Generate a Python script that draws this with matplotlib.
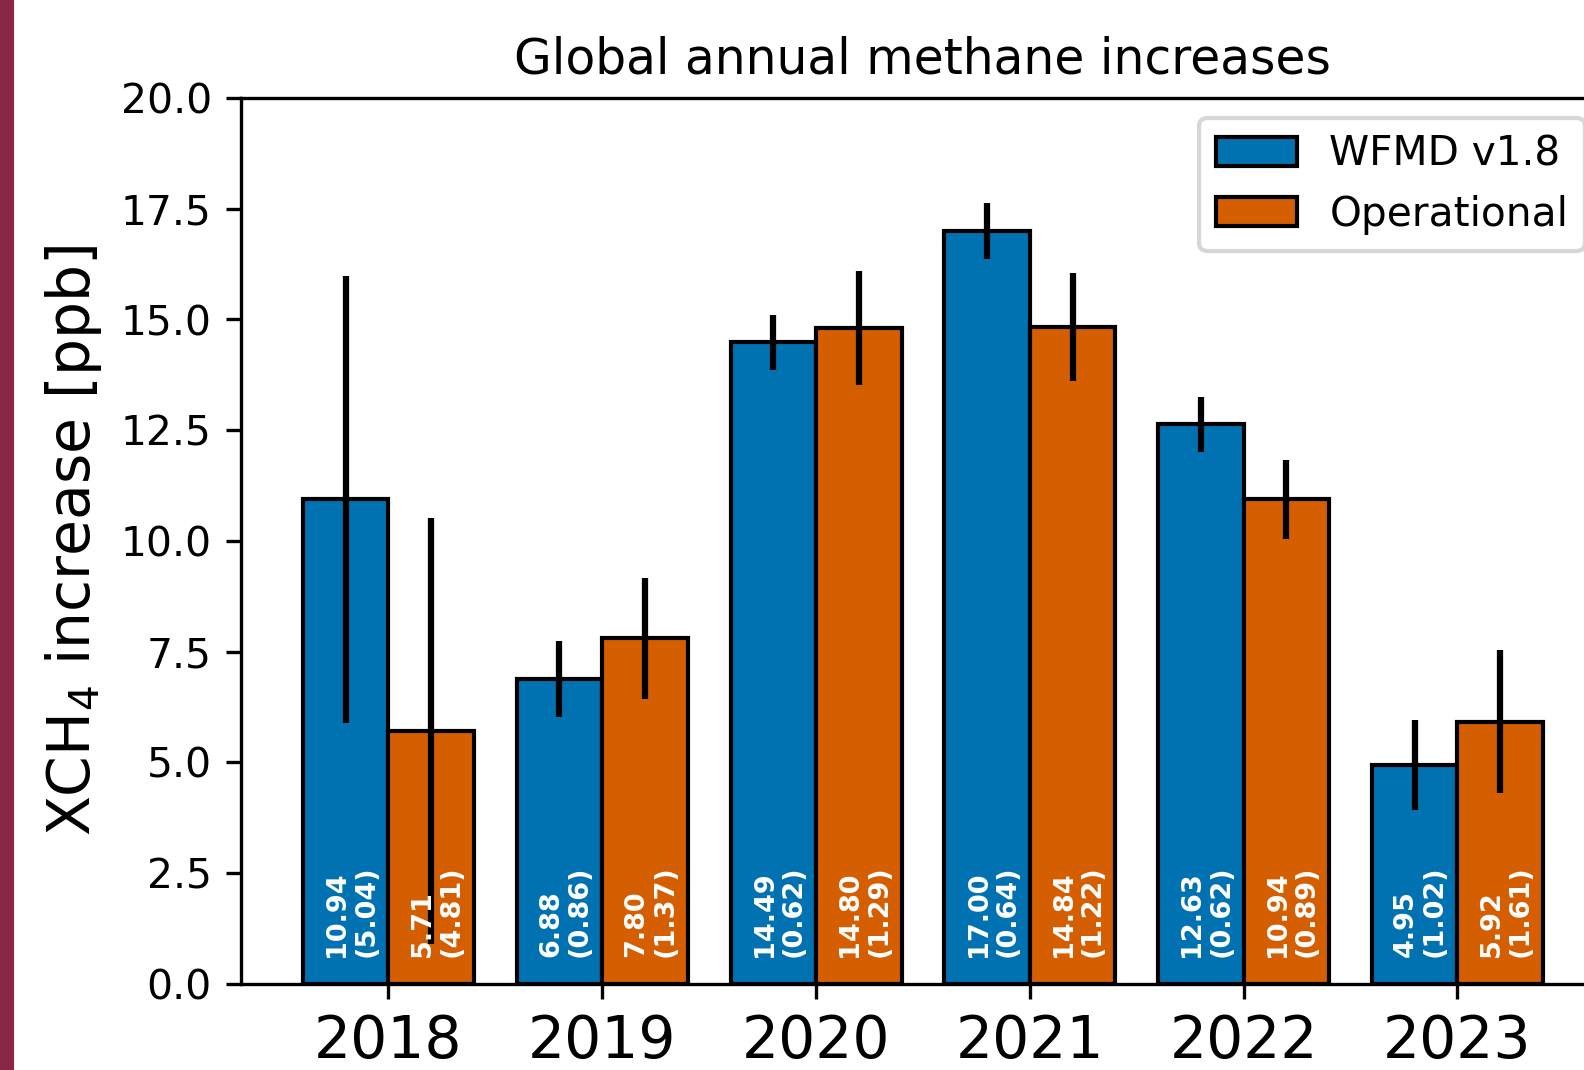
import matplotlib.pyplot as plt
import numpy as np
from matplotlib.patches import Rectangle

years = ['2018', '2019', '2020', '2021', '2022', '2023']
wfmd = [10.94, 6.88, 14.49, 17.00, 12.63, 4.95]
wfmd_err = [5.04, 0.86, 0.62, 0.64, 0.62, 1.02]
oper = [5.71, 7.80, 14.80, 14.84, 10.94, 5.92]
oper_err = [4.81, 1.37, 1.29, 1.22, 0.89, 1.61]

blue = '#0072B2'
orange = '#D55E00'

fig = plt.figure(figsize=(5.28, 3.5667), dpi=300)
ax = fig.add_axes([0.1521, 0.0804, 0.8611, 0.828])

x = np.arange(len(years))
w = 0.4
ax.bar(x - w/2, wfmd, w, yerr=wfmd_err, color=blue, edgecolor='black',
       linewidth=1.0, error_kw=dict(elinewidth=1.5, ecolor='black'), label='WFMD v1.8')
ax.bar(x + w/2, oper, w, yerr=oper_err, color=orange, edgecolor='black',
       linewidth=1.0, error_kw=dict(elinewidth=1.5, ecolor='black'), label='Operational')

for i in range(len(years)):
    ax.text(x[i] - w/2 + 0.028, 0.6, '%.2f\n(%.2f)' % (wfmd[i], wfmd_err[i]), rotation=90,
            ha='center', va='bottom', multialignment='left', color='white',
            fontweight='bold', fontsize=6.5, linespacing=1.15)
    ax.text(x[i] + w/2 + 0.028, 0.6, '%.2f\n(%.2f)' % (oper[i], oper_err[i]), rotation=90,
            ha='center', va='bottom', multialignment='left', color='white',
            fontweight='bold', fontsize=6.5, linespacing=1.15)

ax.set_ylim(0, 20)
ax.set_xticks(x)
ax.set_xticklabels(years, fontsize=14)
ax.tick_params(axis='y', labelsize=9.8)
ax.set_ylabel('XCH$_4$ increase [ppb]', fontsize=14)
ax.set_title('Global annual methane increases', fontsize=11.7)
ax.legend(loc='upper right', fontsize=9.75)

fig.patches.append(Rectangle((0, 0), 12/1584, 1, transform=fig.transFigure,
                             color='#8A2747', zorder=10))

plt.savefig('out.png', dpi=300)
